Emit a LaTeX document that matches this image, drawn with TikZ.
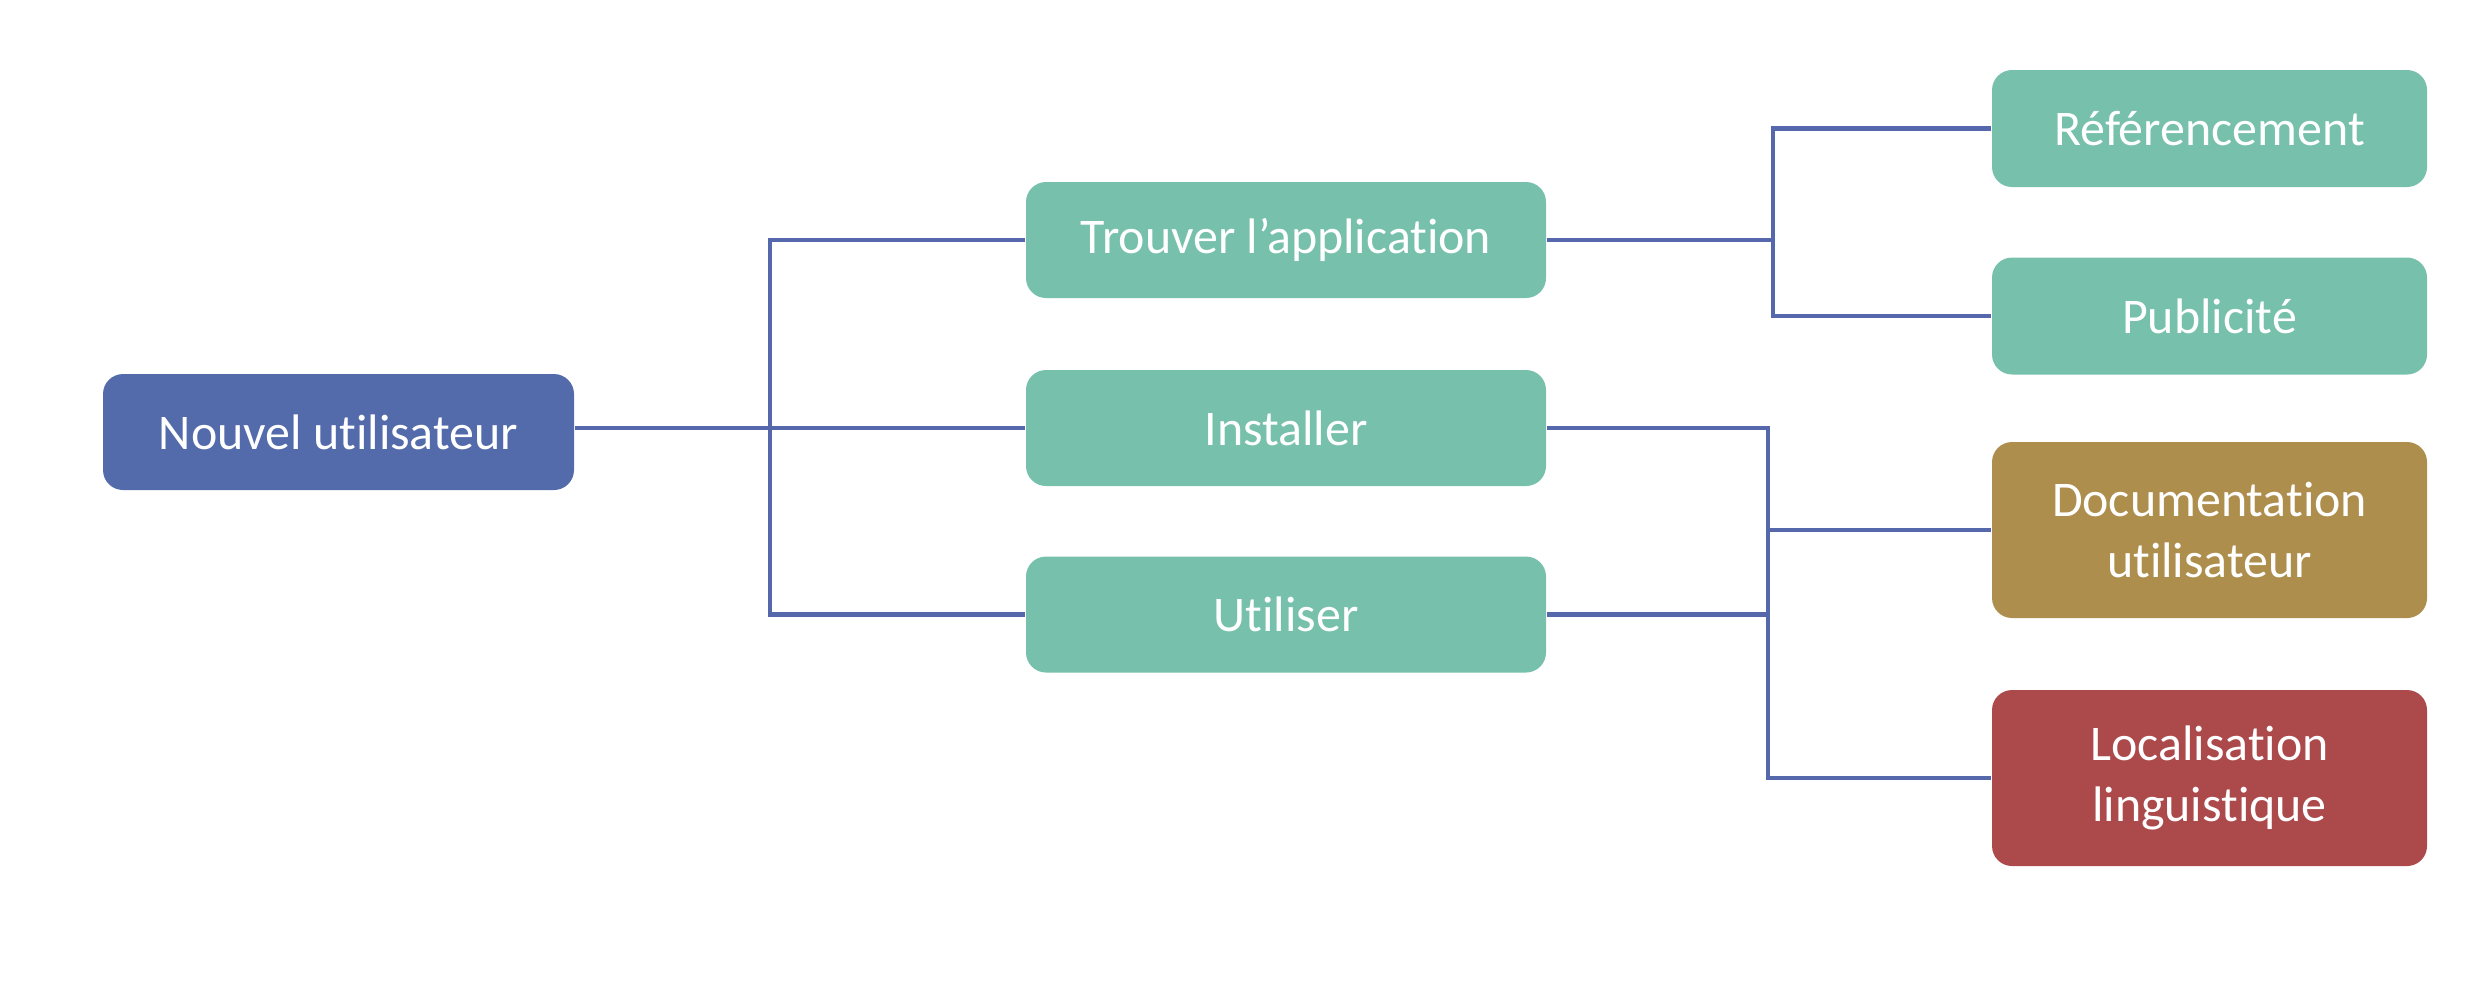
\documentclass[tikz,border=0pt]{standalone}
\usepackage{fontspec}
\setmainfont{Carlito}[Ligatures={NoCommon,NoDiscretionary}]
\definecolor{cblue}{RGB}{83,107,171}
\definecolor{cteal}{RGB}{118,192,172}
\definecolor{cgold}{RGB}{173,142,76}
\definecolor{cred}{RGB}{172,73,75}
\definecolor{cline}{RGB}{85,104,172}
\begin{document}
\begin{tikzpicture}[
  box/.style={rounded corners=0.2cm, inner sep=0pt, align=center, text=white,
    font=\fontsize{14.2}{17.6}\selectfont},
  lbox/.style={box, fill=cblue, minimum width=4.71cm, minimum height=1.16cm},
  mbox/.style={box, fill=cteal, minimum width=5.20cm, minimum height=1.16cm},
  rbox/.style={box, minimum width=4.35cm, minimum height=1.17cm},
  tbox/.style={box, minimum width=4.35cm, minimum height=1.76cm},
  conn/.style={draw=cline, line width=1.2pt}
]
\useasboundingbox (0,0) rectangle (24.86,-9.80);
\node[lbox] (nouv) at (3.385,-4.32) {Nouvel utilisateur};
\node[mbox] (trouv) at (12.86,-2.40) {Trouver l’application};
\node[mbox] (inst) at (12.86,-4.28) {Installer};
\node[mbox] (util) at (12.86,-6.145) {Utiliser};
\node[rbox, fill=cteal] (ref) at (22.095,-1.285) {Référencement};
\node[rbox, fill=cteal] (pub) at (22.095,-3.16) {Publicité};
\node[tbox, fill=cgold] (doc) at (22.095,-5.30) {Documentation\\utilisateur};
\node[tbox, fill=cred] (loc) at (22.095,-7.78) {Localisation\\linguistique};
\coordinate (j1) at (7.70,0);
\coordinate (j2) at (17.73,0);
\coordinate (j3) at (17.68,0);
% left tree
\draw[conn] (nouv.east |- inst.west) -- (inst.west);
\draw[conn] (trouv.west) -- (trouv.west -| j1) -- (util.west -| j1) -- (util.west);
% top right tree
\draw[conn] (trouv.east) -- (trouv.east -| j2);
\draw[conn] (ref.west) -- (ref.west -| j2) -- (pub.west -| j2) -- (pub.west);
% bottom right tree
\draw[conn] (inst.east) -- (inst.east -| j3) -- (loc.west -| j3) -- (loc.west);
\draw[conn] (doc.west -| j3) -- (doc.west);
\draw[conn] (util.east) -- (util.east -| j3);
\end{tikzpicture}
\end{document}
